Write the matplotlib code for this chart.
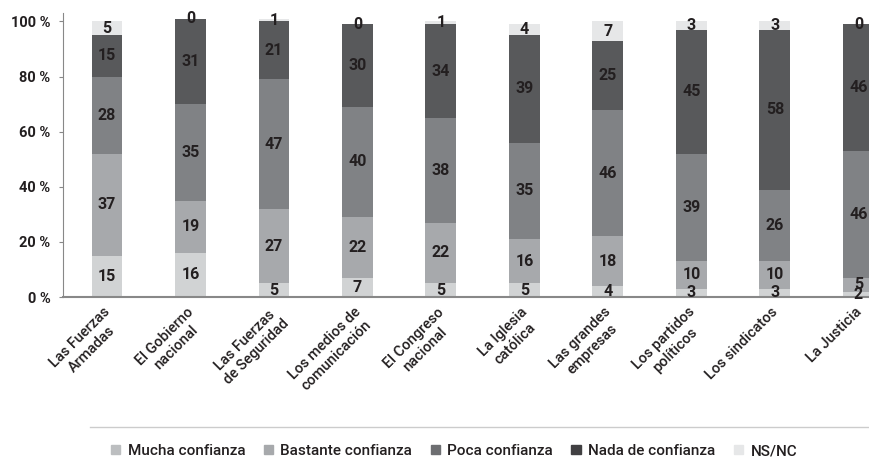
import numpy as np
import matplotlib.pyplot as plt
from matplotlib.lines import Line2D
from matplotlib.patches import Patch
import matplotlib.transforms as mtransforms

plt.rcParams['font.family'] = ['Roboto', 'DejaVu Sans']

# Data: institutions and confidence levels (percent)
categories = ["Las Fuerzas\nArmadas", "El Gobierno\nnacional", "Las Fuerzas\nde Seguridad",
              "Los medios de\ncomunicación", "El Congreso\nnacional", "La Iglesia\ncatólica",
              "Las grandes\nempresas", "Los partidos\npolíticos", "Los sindicatos", "La Justicia"]
mucha = [15, 16, 5, 7, 5, 5, 4, 3, 3, 2]
bastante = [37, 19, 27, 22, 22, 16, 18, 10, 10, 5]
poca = [28, 35, 47, 40, 38, 35, 46, 39, 26, 46]
nada = [15, 31, 21, 30, 34, 39, 25, 45, 58, 46]
nsnc = [5, 0, 1, 0, 1, 4, 7, 3, 3, 0]

series_names = ["Mucha confianza", "Bastante confianza", "Poca confianza", "Nada de confianza", "NS/NC"]
series = [mucha, bastante, poca, nada, nsnc]
colors = ["#d1d3d4", "#a7a9ac", "#808285", "#58595b", "#e6e7e8"]
legend_colors = ["#bcbec0", "#a7a9ac", "#6d6e71", "#414042", "#e6e7e8"]
y_ticks = [0, 20, 40, 60, 80, 100]

fig = plt.figure(figsize=(8.7, 4.7), dpi=100)
ax = fig.add_axes([0.0724, 0.368, 0.9276, 0.604])

x = np.arange(len(categories))
bottom = np.zeros(len(categories))
for name, vals, col in zip(series_names, series, colors):
    vals = np.array(vals)
    ax.bar(x, vals, 0.37, bottom=bottom, color=col, label=name)
    for xi, b, v in zip(x, bottom, vals):
        ax.text(xi, b + v / 2, str(v), ha='center', va='center',
                fontsize=11.5, fontweight='bold', color='#231f20')
    bottom += vals

ax.set_xlim(-0.527, 9.14)
ax.set_ylim(0, 103)
ax.set_yticks(y_ticks)
ax.set_yticklabels([f"{t} %" for t in y_ticks], fontsize=10.5, fontweight='bold', color='#231f20')
ax.tick_params(axis='y', length=3, color='#888888', pad=6)
ax.tick_params(axis='x', length=0)
ax.set_xticks(x)
ax.set_xticklabels(categories, rotation=45, ha='right', va='top', rotation_mode='anchor',
                   multialignment='center', fontsize=10.5, fontweight='medium', color='#231f20')
offset = mtransforms.ScaledTranslation(-0.04, -0.03, fig.dpi_scale_trans)
for lbl in ax.get_xticklabels():
    lbl.set_transform(lbl.get_transform() + offset)

for s in ['top', 'right']:
    ax.spines[s].set_visible(False)
ax.spines['left'].set_color('#888888')
ax.spines['bottom'].set_color('#888888')
ax.spines['bottom'].set_linewidth(1.5)

# separator line above legend
fig.add_artist(Line2D([90 / 870, 1.0], [1 - 427 / 470, 1 - 427 / 470], color='#cccccc', lw=1))

handles = [Patch(color=c) for c in legend_colors]
fig.legend(handles, series_names, loc='center', bbox_to_anchor=(454 / 870, 1 - 451 / 470),
           ncol=5, frameon=False, handlelength=0.6, handleheight=0.6,
           handletextpad=0.5, columnspacing=1.2,
           prop={'size': 11, 'weight': 'medium'}, labelcolor='#231f20')

fig.savefig("out.png", dpi=100)
